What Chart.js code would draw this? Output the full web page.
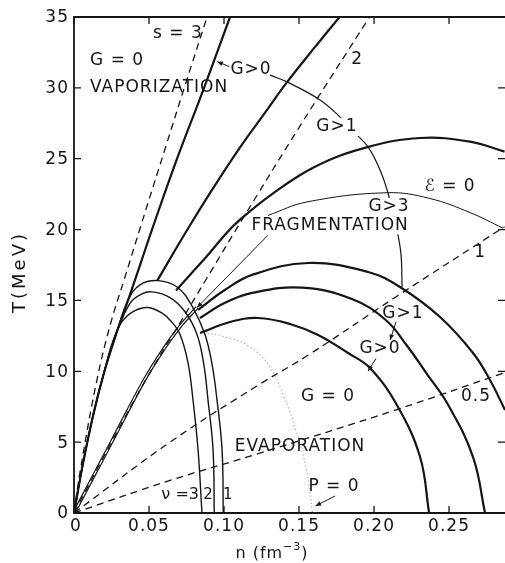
<!DOCTYPE html>
<html>
<head>
<meta charset="utf-8">
<script src="https://cdn.jsdelivr.net/npm/chart.js@4.4.1/dist/chart.umd.min.js"></script>
<style>
  html, body { margin: 0; padding: 0; background: #fff; }
  #wrap { width: 505px; height: 563px; }
</style>
</head>
<body>
<div id="wrap"><canvas id="phase" width="505" height="563"></canvas></div>
<script>
// axis ticks
var xTicks = [0, 0.05, 0.10, 0.15, 0.20, 0.25];
var xTickText = ['0', '0.05', '0.10', '0.15', '0.20', '0.25'];
var yTicks = [0, 5, 10, 15, 20, 25, 30, 35];

// curves, [n (fm^-3), T (MeV)]
// isentropes (dashed)
var isoS3 = [[0,0],[0.0045,3.2],[0.0153,9.4],[0.0245,13.4],[0.034,16.65],[0.0473,21.2],[0.0613,25.9],[0.0747,30.4],[0.0887,35]];
var isoS2 = [[0,0],[0.025,5],[0.05,9.8],[0.07,13.3],[0.0887,16.6],[0.1107,20.46],[0.15,27.2],[0.197,35]];
var isoS1 = [[0,0],[0.064,5.0],[0.124,9.1],[0.157,11.2],[0.2153,15.3],[0.287,20.2]];
var isoS05 = [[0,0],[0.064,2.3],[0.12,4.1],[0.2153,7.3],[0.287,9.9]];

// heavy solid boundaries
var bndVapor = [[0,0],[0.006,3.5],[0.013,7],[0.02,9.9],[0.028,12.6],[0.036,15.0],[0.0453,17.9],[0.052,20],[0.0687,25],[0.0867,30],[0.104,35]];
var bndG1 = [[0.0555,16.4],[0.075,19.9],[0.092,22.8],[0.11,25.7],[0.127,28.2],[0.142,30.4],[0.16,32.8],[0.177,35]];
var bndTop = [[0.068,15.7],[0.0773,16.8],[0.09,18.3],[0.102,19.8],[0.1107,20.7],[0.1307,22.4],[0.16,24.4],[0.195,25.8],[0.231,26.46],[0.264,26.2],[0.287,25.5]];
var arcOuter = [[0.0827,14.33],[0.1,15.7],[0.1187,16.8],[0.156,17.64],[0.196,17.01],[0.2173,15.95],[0.244,13.83],[0.266,11.29],[0.2773,9.39],[0.2873,7.27]];
var arcMid = [[0.084,13.76],[0.1,14.8],[0.1187,15.53],[0.152,15.9],[0.1853,15.1],[0.208,13.6],[0.222,11.8],[0.2353,9.8],[0.2487,7.76],[0.266,3.95],[0.274,0]];
var arcInner = [[0.084,12.7],[0.104,13.48],[0.1227,13.76],[0.144,13.34],[0.1627,12.56],[0.1827,11.29],[0.1973,10.23],[0.2153,7.6],[0.2307,3.95],[0.2367,0]];

// nu = 3, 2, 1 curves
var nu3 = [[0,0],[0.006,3.5],[0.013,7],[0.02,9.9],[0.0255,12.0],[0.032,13.5],[0.04,14.25],[0.0493,14.5],[0.0587,14.1],[0.065,13.5],[0.0707,12.6],[0.076,10.6],[0.0793,8.0],[0.0827,4.45],[0.0853,0]];
var nu2 = [[0,0],[0.006,3.5],[0.013,7],[0.02,9.9],[0.028,12.6],[0.0373,14.8],[0.045,15.45],[0.052,15.6],[0.064,15.2],[0.074,14.2],[0.082,12.6],[0.0865,10.5],[0.0893,8.0],[0.0927,4.45],[0.0935,0]];
var nu1 = [[0,0],[0.006,3.5],[0.013,7],[0.02,9.9],[0.028,12.6],[0.036,15.0],[0.044,16.1],[0.056,16.4],[0.0687,15.95],[0.0787,14.6],[0.0873,12.6],[0.092,10.5],[0.0953,8.0],[0.0987,4.45],[0.0995,0]];

// double line from the origin
var dblLine = [[0,0],[0.011,2.2],[0.024,4.8],[0.047,9.4],[0.06,11.6],[0.071,13.2],[0.082,14.5]];

// thin curves
var epsZero = [[0.1293,21.0],[0.1553,21.95],[0.2087,22.6],[0.237,22.2],[0.264,21.2],[0.286,20.1]];
var gArc = [[0.1307,30.9],[0.142,30.42],[0.164,29.15],[0.1773,27.95],[0.1873,26.82],[0.196,25.83],[0.204,24.21],[0.2093,22.58],[0.2153,19.97],[0.218,18.2],[0.2187,15.95]];
var pZero = [[0.084,12.75],[0.1,12.45],[0.116,11.8],[0.13,10.4],[0.14,8.2],[0.148,5.8],[0.155,3.0],[0.159,0]];

// text on the plot: [text, n, T, align, white box, font px]
var notes = [
  ['s = 3', 0.0693, 33.8, 'center', false, 17],
  ['G = 0', 0.0107, 31.9, 'left', false, 17],
  ['VAPORIZATION', 0.0107, 30.0, 'left', false, 17],
  ['G>0', 0.118, 31.26, 'center', false, 17],
  ['2', 0.1887, 32.0, 'center', false, 17],
  ['G>1', 0.1753, 27.24, 'center', true, 17],
  ['\u2130 = 0', 0.2507, 23.0, 'center', false, 17],
  ['G>3', 0.21, 21.6, 'center', true, 17],
  ['FRAGMENTATION', 0.1707, 20.3, 'center', true, 17],
  ['1', 0.2707, 18.4, 'center', false, 17],
  ['G>1', 0.2193, 14.1, 'center', false, 17],
  ['G>0', 0.204, 11.6, 'center', false, 17],
  ['G = 0', 0.1693, 8.2, 'center', false, 17],
  ['0.5', 0.268, 8.2, 'center', false, 17],
  ['EVAPORATION', 0.1507, 4.66, 'center', false, 17],
  ['P = 0', 0.1733, 1.83, 'center', false, 17],
  ['\u03bd =3', 0.0833, 1.27, 'right', false, 16],
  ['2', 0.0894, 1.27, 'center', false, 15],
  ['1', 0.1025, 1.27, 'center', false, 15]
];
// pointers: [from n, from T, to n, to T]
var pointers = [
  [0.1035, 31.5, 0.0955, 31.85],
  [0.1293, 19.6, 0.082, 14.5],
  [0.2013, 10.9, 0.196, 10.0],
  [0.2147, 13.5, 0.2107, 12.2],
  [0.174, 1.2, 0.161, 0.5]
];

var INK = '#151515';
var FONT = '"DejaVu Sans", "Liberation Sans", sans-serif';

function line(pts, width, dash, color, order) {
  return {
    data: pts.map(function (p) { return { x: p[0], y: p[1] }; }),
    showLine: true,
    borderColor: color || INK,
    borderWidth: width,
    borderDash: dash || [],
    pointRadius: 0,
    tension: 0.4,
    fill: false,
    order: order || 0
  };
}

var dashed = [7, 5];
var datasets = [
  line(isoS3, 1.3, dashed),
  line(isoS2, 1.3, dashed),
  line(isoS1, 1.3, dashed),
  line(isoS05, 1.3, dashed),
  line(bndVapor, 2.2),
  line(bndG1, 2.2),
  line(bndTop, 2.2),
  line(arcOuter, 2.2),
  line(arcMid, 2.2),
  line(arcInner, 2.2),
  line(nu3, 1.4),
  line(nu2, 1.4),
  line(nu1, 1.4),
  line(dblLine, 3.6, null, INK, 10),
  line(dblLine, 1.2, null, '#ffffff', 9),
  line(epsZero, 1.0),
  line(gArc, 1.2),
  line(pZero, 1.1, [1.2, 2.6], '#a0a0a0')
];

function arrow(ctx, x1, y1, x2, y2) {
  ctx.beginPath();
  ctx.moveTo(x1, y1);
  ctx.lineTo(x2, y2);
  ctx.stroke();
  var a = Math.atan2(y2 - y1, x2 - x1), s = 6;
  ctx.beginPath();
  ctx.moveTo(x2, y2);
  ctx.lineTo(x2 - s * Math.cos(a - 0.4), y2 - s * Math.sin(a - 0.4));
  ctx.lineTo(x2 - s * Math.cos(a + 0.4), y2 - s * Math.sin(a + 0.4));
  ctx.closePath();
  ctx.fill();
}

var framePlugin = {
  id: 'frame',
  afterDatasetsDraw: function (chart) {
    var ctx = chart.ctx, a = chart.chartArea;
    var xs = chart.scales.x, ys = chart.scales.y;
    ctx.save();
    ctx.strokeStyle = INK;
    ctx.fillStyle = INK;

    // text on the plot
    ctx.textBaseline = 'middle';
    notes.forEach(function (n) {
      var px = xs.getPixelForValue(n[1]), py = ys.getPixelForValue(n[2]);
      if ('letterSpacing' in ctx) ctx.letterSpacing = n[5] < 17 ? '0px' : '1px';
      ctx.font = n[5] + 'px ' + FONT;
      ctx.textAlign = n[3];
      if (n[4]) {
        var w = ctx.measureText(n[0]).width;
        var x0 = n[3] === 'left' ? px : (n[3] === 'right' ? px - w : px - w / 2);
        ctx.fillStyle = '#fff';
        ctx.fillRect(x0 - 2, py - 9, w + 4, 18);
        ctx.fillStyle = INK;
      }
      ctx.fillText(n[0], px, py);
    });
    if ('letterSpacing' in ctx) ctx.letterSpacing = '1px';

    ctx.lineWidth = 1;
    pointers.forEach(function (p) {
      arrow(ctx, xs.getPixelForValue(p[0]), ys.getPixelForValue(p[1]),
        xs.getPixelForValue(p[2]), ys.getPixelForValue(p[3]));
    });

    // frame
    ctx.lineWidth = 1.8;
    ctx.beginPath();
    ctx.moveTo(a.right, a.top);
    ctx.lineTo(a.left, a.top);
    ctx.lineTo(a.left, a.bottom);
    ctx.lineTo(a.right, a.bottom);
    ctx.stroke();

    // inward ticks
    ctx.lineWidth = 1.3;
    ctx.beginPath();
    xTicks.forEach(function (v) {
      var px = xs.getPixelForValue(v);
      ctx.moveTo(px, a.bottom); ctx.lineTo(px, a.bottom - 7);
      ctx.moveTo(px, a.top); ctx.lineTo(px, a.top + 7);
    });
    yTicks.forEach(function (v) {
      var py = ys.getPixelForValue(v);
      ctx.moveTo(a.left, py); ctx.lineTo(a.left + 7, py);
      ctx.moveTo(a.right, py); ctx.lineTo(a.right - 7, py);
    });
    ctx.stroke();

    // tick labels
    ctx.font = '17px ' + FONT;
    ctx.textAlign = 'center';
    ctx.textBaseline = 'top';
    xTicks.forEach(function (v, i) {
      ctx.fillText(xTickText[i], xs.getPixelForValue(v) + (i === 0 ? 2 : 0), a.bottom + 5);
    });
    ctx.textAlign = 'right';
    ctx.textBaseline = 'middle';
    yTicks.forEach(function (v) {
      ctx.fillText(String(v), a.left - 5, ys.getPixelForValue(v) + 1);
    });

    // axis titles
    ctx.save();
    if ('letterSpacing' in ctx) ctx.letterSpacing = '3px';
    ctx.translate(20, 272);
    ctx.rotate(-Math.PI / 2);
    ctx.textAlign = 'center';
    ctx.font = '18px ' + FONT;
    ctx.fillText('T(MeV)', 0, 0);
    ctx.restore();

    ctx.textAlign = 'left';
    ctx.textBaseline = 'alphabetic';
    ctx.font = '16px ' + FONT;
    var t1 = 'n (fm', t2 = '\u22123', t3 = ')';
    var w1 = ctx.measureText(t1).width;
    ctx.font = '11px ' + FONT;
    var w2 = ctx.measureText(t2).width;
    ctx.font = '16px ' + FONT;
    var w3 = ctx.measureText(t3).width;
    var x0 = 272 - (w1 + w2 + w3) / 2, yb = 558;
    ctx.fillText(t1, x0, yb);
    ctx.font = '11px ' + FONT;
    ctx.fillText(t2, x0 + w1, yb - 8);
    ctx.font = '16px ' + FONT;
    ctx.fillText(t3, x0 + w1 + w2, yb);
    ctx.restore();
  }
};

new Chart(document.getElementById('phase'), {
  type: 'scatter',
  data: { datasets: datasets },
  options: {
    responsive: false,
    animation: false,
    devicePixelRatio: 1,
    layout: { padding: { left: 74, top: 17, right: 0, bottom: 50 } },
    plugins: { legend: { display: false }, tooltip: { enabled: false } },
    scales: {
      x: { type: 'linear', min: 0, max: 0.2873, display: false },
      y: { type: 'linear', min: 0, max: 35, display: false }
    }
  },
  plugins: [framePlugin]
});
</script>
</body>
</html>
